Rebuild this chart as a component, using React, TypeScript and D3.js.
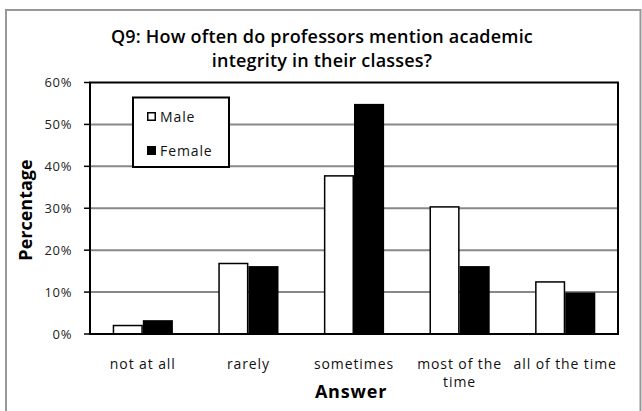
import React from "react";
import * as d3 from "d3";

const categories = ["not at all", "rarely", "sometimes", "most of the time", "all of the time"];
const categoryLines = [["not at all"], ["rarely"], ["sometimes"], ["most of the", "time"], ["all of the time"]];
const series = ["Male", "Female"];
const maleValues = [2.2, 17.0, 37.9, 30.5, 12.6];
const femaleValues = [3.3, 16.2, 54.9, 16.2, 9.9];
const yTicks = [0, 10, 20, 30, 40, 50, 60];
const titleLines = ["Q9: How often do professors mention academic", "integrity in their classes?"];

const W = 642;
const H = 411;
const plot = { left: 90, right: 618, top: 82.5, bottom: 334 };
const font = "'Open Sans', 'Noto Sans', sans-serif";

export default function App() {
  const x = d3.scaleBand<string>().domain(categories).range([plot.left, plot.right]).paddingInner(0.43).paddingOuter(0.215);
  const xs = d3.scaleBand<string>().domain(series).range([0, x.bandwidth()]);
  const y = d3.scaleLinear().domain([0, 60]).range([plot.bottom, plot.top]);
  const values = [maleValues, femaleValues];

  return (
    <svg width={W} height={H} style={{ position: "absolute", left: 0, top: 0, background: "#fff" }}>
      <rect x={6} y={10} width={634.5} height={410} fill="#fff" stroke="#999" strokeWidth={2} />
      {titleLines.map((t, i) => (
        <text key={i} x={322} y={43 + i * 24} textAnchor="middle" fontFamily={font} fontWeight={600} fontSize={18} letterSpacing={0.2} fill="#000">
          {t}
        </text>
      ))}
      {yTicks.map((t) => (
        <g key={t}>
          {t > 0 && t < 60 && (
            <line x1={plot.left} x2={plot.right} y1={y(t)} y2={y(t)} stroke="#888" strokeWidth={2} />
          )}
          <line x1={plot.left - 6} x2={plot.left} y1={y(t)} y2={y(t)} stroke="#000" strokeWidth={1.5} />
          <text x={72} y={y(t) + 4.5} textAnchor="end" fontFamily={font} fontSize={13} letterSpacing={0.6} fill="#222">
            {t}%
          </text>
        </g>
      ))}
      {categories.map((c, ci) => (
        <g key={c}>
          {series.map((s, si) => {
            const v = values[si][ci];
            const bx = (x(c) as number) + (xs(s) as number);
            return si === 0 ? (
              <rect key={s} x={bx + 0.75} y={y(v) + 0.75} width={xs.bandwidth() - 1.5} height={plot.bottom - y(v) - 0.75} fill="#fff" stroke="#000" strokeWidth={1.5} />
            ) : (
              <rect key={s} x={bx} y={y(v)} width={xs.bandwidth()} height={plot.bottom - y(v)} fill="#000" />
            );
          })}
          {categoryLines[ci].map((l, li) => (
            <text key={li} x={(x(c) as number) + x.bandwidth() / 2} y={369 + li * 18} textAnchor="middle" fontFamily={font} fontSize={14} letterSpacing={0.9} fill="#111">
              {l}
            </text>
          ))}
        </g>
      ))}
      <rect x={plot.left} y={plot.top} width={plot.right - plot.left} height={plot.bottom - plot.top} fill="none" stroke="#000" strokeWidth={2} />
      <g>
        <rect x={133} y={97.5} width={96} height={69.5} fill="#fff" stroke="#000" strokeWidth={2} />
        {series.map((s, i) => (
          <g key={s}>
            <rect x={147 + (i === 0 ? 0.75 : 0)} y={112 + i * 34 + (i === 0 ? 0.75 : 0)} width={i === 0 ? 7.5 : 9} height={i === 0 ? 7.5 : 9} fill={i === 0 ? "#fff" : "#000"} stroke={i === 0 ? "#000" : "none"} strokeWidth={1.5} />
            <text x={160} y={121.5 + i * 34} fontFamily={font} fontSize={14} letterSpacing={0.9} fill="#111">
              {s}
            </text>
          </g>
        ))}
      </g>
      <text transform={`translate(32,210) rotate(-90)`} textAnchor="middle" fontFamily={font} fontWeight={700} fontSize={18} fill="#000">
        Percentage
      </text>
      <text x={351} y={398} textAnchor="middle" fontFamily={font} fontWeight={700} fontSize={18} letterSpacing={0.8} fill="#000">
        Answer
      </text>
    </svg>
  );
}
